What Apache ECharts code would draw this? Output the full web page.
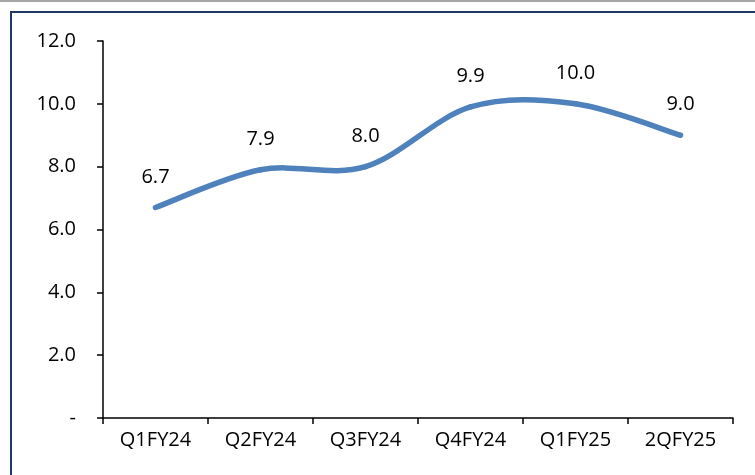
<!DOCTYPE html>
<html>
<head>
<meta charset="utf-8">
<script src="https://cdn.jsdelivr.net/npm/echarts@6/dist/echarts.min.js"></script>
<style>
  html, body { margin: 0; padding: 0; background: #fff; }
  #wrap { width: 755px; height: 475px; position: relative; overflow: hidden; }
  #topline { position: absolute; left: 0; top: 0; width: 755px; height: 2px; background: #a6a6a6; }
  #frame { position: absolute; left: 10px; top: 11px; width: 800px; height: 500px; border: 2px solid #1f3864; box-sizing: border-box; }
  #chart { position: absolute; left: 0; top: 0; width: 755px; height: 475px; }
</style>
</head>
<body>
<div id="wrap">
  <div id="topline"></div>
  <div id="frame"></div>
  <div id="chart"></div>
</div>
<script>
var quarters = ['Q1FY24', 'Q2FY24', 'Q3FY24', 'Q4FY24', 'Q1FY25', '2QFY25'];
var values = [6.7, 7.9, 8.0, 9.9, 10.0, 9.0];

var myChart = echarts.init(document.getElementById('chart'));
var font = '"Open Sans", "Liberation Sans", sans-serif';

// excel-like smoothed segment from point i to i+1 (catmull-rom style, overshoots like excel does)
function renderSegment(params, api) {
    var i = params.dataIndex;
    var n = values.length;
    if (i >= n - 1) return null;
    var p0 = api.coord([Math.max(i - 1, 0), values[Math.max(i - 1, 0)]]);
    var p1 = api.coord([i, values[i]]);
    var p2 = api.coord([i + 1, values[i + 1]]);
    var p3 = api.coord([Math.min(i + 2, n - 1), values[Math.min(i + 2, n - 1)]]);
    var k = 1 / 6;
    return {
        type: 'bezierCurve',
        shape: {
            x1: p1[0], y1: p1[1],
            x2: p2[0], y2: p2[1],
            cpx1: p1[0] + (p2[0] - p0[0]) * k,
            cpy1: p1[1] + (p2[1] - p0[1]) * k,
            cpx2: p2[0] - (p3[0] - p1[0]) * k,
            cpy2: p2[1] - (p3[1] - p1[1]) * k
        },
        style: { stroke: '#4f81bd', lineWidth: 5.5, lineCap: 'round', fill: null }
    };
}

var option = {
    animation: false,
    grid: { left: 103, right: 22, top: 41, bottom: 57 },
    xAxis: {
        type: 'category',
        data: quarters,
        boundaryGap: true,
        axisLine: { lineStyle: { color: '#000', width: 1.5 } },
        axisTick: { show: true, length: 6, lineStyle: { color: '#000', width: 1.5 } },
        axisLabel: { color: '#000', fontFamily: font, fontSize: 20, margin: 12 }
    },
    yAxis: {
        type: 'value',
        min: 0,
        max: 12,
        interval: 2,
        splitLine: { show: false },
        axisLine: { show: true, lineStyle: { color: '#000', width: 1.5 } },
        axisTick: { show: true, length: 6, lineStyle: { color: '#000', width: 1.5 } },
        axisLabel: {
            color: '#000', fontFamily: font, fontSize: 20, margin: 27,
            formatter: function (v) { return v === 0 ? '-' : v.toFixed(1); }
        }
    },
    series: [
        {
            type: 'custom',
            renderItem: renderSegment,
            data: values.map(function (v, i) { return [i, v]; }),
            encode: { x: 0, y: 1 },
            z: 2
        },
        {
            // labels only
            type: 'line',
            data: values,
            symbol: 'circle',
            symbolSize: 1,
            showSymbol: true,
            itemStyle: { color: '#4f81bd' },
            lineStyle: { width: 0 },
            z: 1,
            label: {
                show: true,
                position: 'top',
                distance: 20,
                color: '#000',
                fontFamily: font,
                fontSize: 20,
                formatter: function (p) { return p.value.toFixed(1); }
            }
        }
    ]
};
myChart.setOption(option);
</script>
</body>
</html>
